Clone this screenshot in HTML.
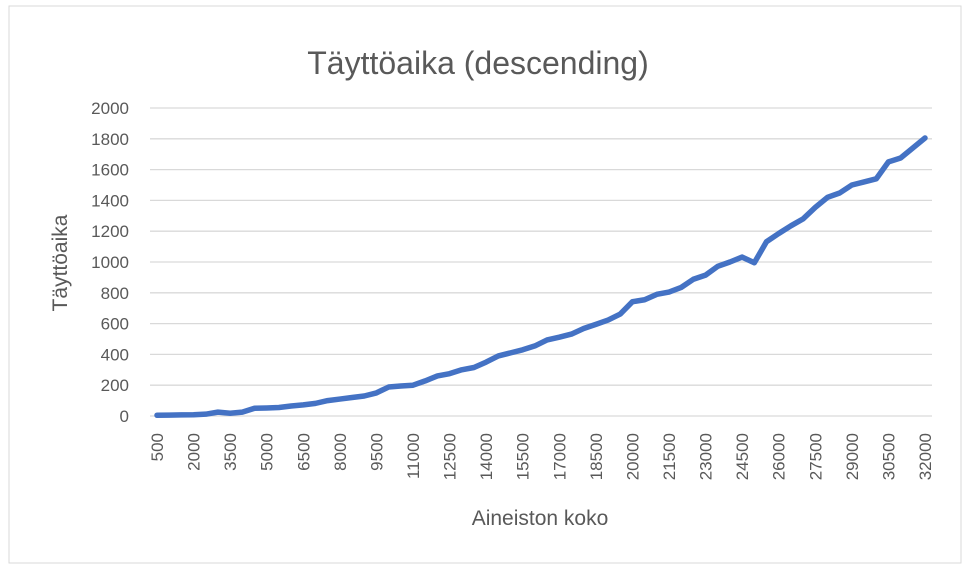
<!DOCTYPE html>
<html><head><meta charset="utf-8"><style>
html,body{margin:0;padding:0;background:#fff;}
svg{display:block;font-family:"Liberation Sans",sans-serif;}
</style></head><body>
<svg id="c" width="970" height="571">
<rect x="9" y="6" width="952" height="557" fill="#fff" stroke="#d9d9d9"/>
<text x="478" y="74" text-anchor="middle" font-size="32" fill="#595959">Täyttöaika (descending)</text>
<text x="540" y="525" text-anchor="middle" font-size="21" fill="#595959">Aineiston koko</text>
<text transform="translate(67,263) rotate(-90)" text-anchor="middle" font-size="21" fill="#595959">Täyttöaika</text>
<g id="grid"></g><g id="ylab"></g><g id="xlab"></g><g id="series"></g>
</svg>
<script>
const categories = [];
for (let v = 500; v <= 32000; v += 500) categories.push(v);
const values = [5,6,7,8,12,25,18,25,50,52,55,65,72,82,100,110,120,130,150,188,195,200,228,260,275,300,315,350,390,410,430,455,494,512,532,568,595,623,662,742,755,790,805,835,888,915,972,1000,1032,995,1132,1185,1235,1280,1355,1420,1448,1500,1520,1540,1650,1675,1740,1805];
const yTicks = [0,200,400,600,800,1000,1200,1400,1600,1800,2000];
const NS = "http://www.w3.org/2000/svg";
const x0 = 157, x1 = 925, y0 = 416, y1 = 108, yMax = 2000;
const xs = i => x0 + (x1 - x0) * i / (categories.length - 1);
const ys = v => y0 - (y0 - y1) * v / yMax;
const grid = document.getElementById('grid'), ylab = document.getElementById('ylab'), xlab = document.getElementById('xlab'), series = document.getElementById('series');
yTicks.forEach(t => {
  const l = document.createElementNS(NS, 'line');
  l.setAttribute('x1', 150); l.setAttribute('x2', 932);
  l.setAttribute('y1', ys(t)); l.setAttribute('y2', ys(t));
  l.setAttribute('stroke', '#d9d9d9'); l.setAttribute('stroke-width', '1.3');
  
  
  grid.appendChild(l);
  const tx = document.createElementNS(NS, 'text');
  tx.setAttribute('x', 129); tx.setAttribute('y', ys(t) + 6);
  tx.setAttribute('text-anchor', 'end'); tx.setAttribute('font-size', '17'); tx.setAttribute('fill', '#595959');
  tx.textContent = t;
  
  
  ylab.appendChild(tx);
});
categories.forEach((c, i) => {
  if (i % 3 !== 0) return;
  const tx = document.createElementNS(NS, 'text');
  tx.setAttribute('transform', 'translate(' + (xs(i) + 6) + ',433) rotate(-90)');
  tx.setAttribute('text-anchor', 'end'); tx.setAttribute('font-size', '17'); tx.setAttribute('fill', '#595959');
  tx.textContent = c;
  
  
  xlab.appendChild(tx);
});
const p = document.createElementNS(NS, 'polyline');
p.setAttribute('points', values.map((v, i) => xs(i) + ',' + ys(v)).join(' '));
p.setAttribute('fill', 'none'); p.setAttribute('stroke', '#4472c4'); p.setAttribute('stroke-width', '5.5');
p.setAttribute('stroke-linejoin', 'round'); p.setAttribute('stroke-linecap', 'round');


series.appendChild(p);
</script>
</body></html>
